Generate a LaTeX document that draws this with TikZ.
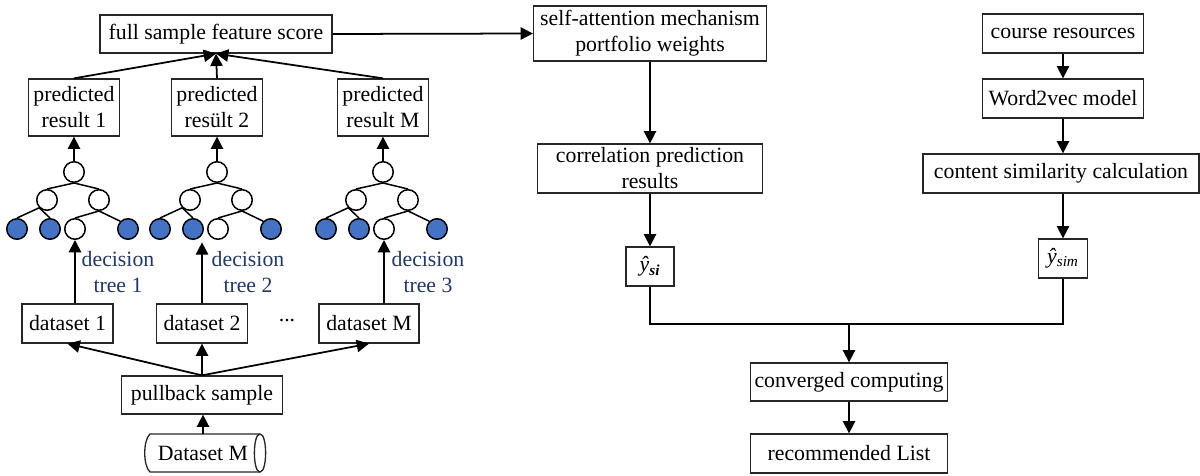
\documentclass[tikz,border=0pt]{standalone}
\usepackage{fontspec}
\setmainfont{Liberation Serif}
\usetikzlibrary{arrows.meta}
\definecolor{decblue}{RGB}{31,56,112}
\definecolor{leafblue}{RGB}{68,114,196}

\begin{document}
\begin{tikzpicture}[x=0.02cm,y=-0.02cm,
 font=\fontsize{12.4pt}{14.8pt}\selectfont,
 box/.style={draw=black!85,line width=0.75pt,inner sep=1pt,align=center},
 knot/.style={circle,draw,line width=0.85pt,minimum size=0.41cm,inner sep=0pt,fill=white},
 leaf/.style={knot,fill=leafblue},
 twig/.style={line width=0.85pt},
 arr/.style={-{Triangle[length=7pt,width=7pt]},line width=1pt}]
 \useasboundingbox (0,0) rectangle (1200,476);
 \node[box,minimum width=4.64cm,minimum height=0.76cm] (fs) at (216,34) {full sample feature score};
 \node[box,minimum width=1.82cm,minimum height=1.14cm] (pr1) at (74,107.5) {predicted\\result 1};
 \node[box,minimum width=1.82cm,minimum height=1.14cm] (pr2) at (217,107.5) {predicted\\resült 2};
 \node[box,minimum width=1.82cm,minimum height=1.14cm] (prM) at (383,107.5) {predicted\\result M};
 \draw[arr] (pr1.north) -- (fs.south);
 \draw[arr] (pr2.north) -- (fs.south);
 \draw[arr] (prM.north) -- (fs.south);
 \node[knot] (t1r) at (74,172) {};
 \node[knot] (t1a) at (47,200) {};
 \node[knot] (t1b) at (99,200) {};
 \node[leaf] (t1l1) at (17,229) {};
 \node[leaf] (t1l2) at (50,229) {};
 \node[knot] (t1l3) at (75,229) {};
 \node[leaf] (t1l4) at (128,229) {};
 \draw[twig] (t1a.north) -- (t1r.south) -- (t1b.north);
 \draw[twig] (t1l1.north) -- (t1a.south west) -- (t1l2.north);
 \draw[twig] (t1l3.north) -- (t1b.south) -- (t1l4.north west);
 \node[knot] (t2r) at (217,172) {};
 \node[knot] (t2a) at (190,200) {};
 \node[knot] (t2b) at (242,200) {};
 \node[leaf] (t2l1) at (160,229) {};
 \node[leaf] (t2l2) at (193,229) {};
 \node[knot] (t2l3) at (218,229) {};
 \node[leaf] (t2l4) at (271,229) {};
 \draw[twig] (t2a.north) -- (t2r.south) -- (t2b.north);
 \draw[twig] (t2l1.north) -- (t2a.south west) -- (t2l2.north);
 \draw[twig] (t2l3.north) -- (t2b.south) -- (t2l4.north west);
 \node[knot] (t3r) at (383,172) {};
 \node[knot] (t3a) at (356,200) {};
 \node[knot] (t3b) at (408,200) {};
 \node[leaf] (t3l1) at (326,229) {};
 \node[leaf] (t3l2) at (359,229) {};
 \node[knot] (t3l3) at (384,229) {};
 \node[leaf] (t3l4) at (437,229) {};
 \draw[twig] (t3a.north) -- (t3r.south) -- (t3b.north);
 \draw[twig] (t3l1.north) -- (t3a.south west) -- (t3l2.north);
 \draw[twig] (t3l3.north) -- (t3b.south) -- (t3l4.north west);
 \draw[arr] (t1r.north) -- (pr1.south -| t1r);
 \draw[arr] (t2r.north) -- (pr2.south -| t2r);
 \draw[arr] (t3r.north) -- (prM.south -| t3r);
 \node[box,minimum width=1.82cm,minimum height=0.78cm] (ds1) at (67.5,323.5) {dataset 1};
 \node[box,minimum width=1.82cm,minimum height=0.78cm] (ds2) at (202,323.5) {dataset 2};
 \node[box,minimum width=2cm,minimum height=0.78cm] (dsM) at (369,323.5) {dataset M};
 \node (dots) at (287,321) {...};
 \draw[arr] (ds1.north -| t1l3) -- (t1l3.south);
 \draw[arr] (ds2.north) -- ++(0,-61);
 \draw[arr] (dsM.north -| t3l3) -- (t3l3.south);
 \node[text=decblue,align=center] (dec1) at (118,272) {decision\\tree 1};
 \node[text=decblue,align=center] (dec2) at (248,272) {decision\\tree 2};
 \node[text=decblue,align=center] (dec3) at (428,272) {decision\\tree 3};
 \node[box,minimum width=3.22cm,minimum height=0.76cm] (pull) at (202,395) {pullback sample};
 \node[inner sep=1pt,minimum width=2.42cm,minimum height=0.76cm] (cyl) at (203,453) {Dataset M};
 \draw[draw=black!85,line width=0.75pt] (260,434) -- (150,434) .. controls (143,440) and (143,466) .. (150,472) -- (260,472);
 \draw[draw=black!85,line width=0.75pt] (260,434) .. controls (267.5,434) and (267.5,472) .. (260,472) .. controls (252.5,472) and (252.5,434) .. (260,434);
 \draw[arr] (pull.north) -- (ds1.south);
 \draw[arr] (pull.north) -- (ds2.south);
 \draw[arr] (pull.north) -- (dsM.south);
 \draw[arr] (cyl.north) -- (pull.south -| cyl);
 \node[box,minimum width=4.66cm,minimum height=1.1cm] (sa) at (650,33.5) {self-attention mechanism\\portfolio weights};
 \node[box,minimum width=4.5cm,minimum height=0.98cm] (corr) at (650,168.5) {correlation prediction\\results};
 \node[box,minimum width=0.96cm,minimum height=0.78cm] (ysi) at (650,266.5) {\textit{ŷ}\textsubscript{\textbf{\textit{si}}}};
 \draw[arr] (fs.east) -- (sa.west);
 \draw[arr] (sa.south) -- (corr.north);
 \draw[arr] (corr.south) -- (ysi.north);
 \node[box,minimum width=3.22cm,minimum height=0.78cm] (cr) at (1063,33.5) {course resources};
 \node[box,minimum width=3.22cm,minimum height=0.78cm] (w2v) at (1063,98.5) {Word2vec model};
 \node[box,minimum width=5.52cm,minimum height=0.78cm] (cs) at (1061,173.5) {content similarity calculation};
 \node[box,minimum width=0.98cm,minimum height=0.78cm] (ysim) at (1063,258.5) {\textit{ŷ}\textsubscript{\textit{sim}}};
 \draw[arr] (cr.south) -- (w2v.north);
 \draw[arr] (w2v.south) -- (cs.north -| w2v);
 \draw[arr] (cs.south -| ysim) -- (ysim.north);
 \coordinate (join) at (849,324);
 \node[box,minimum width=3.94cm,minimum height=0.76cm] (cc) at (849,382) {converged computing};
 \node[box,minimum width=3.94cm,minimum height=0.78cm] (rl) at (849,453.5) {recommended List};
 \draw[line width=1pt] (ysi.south) |- (join) -| (ysim.south);
 \draw[arr] (join) -- (cc.north);
 \draw[arr] (cc.south) -- (rl.north);
\end{tikzpicture}
\end{document}
